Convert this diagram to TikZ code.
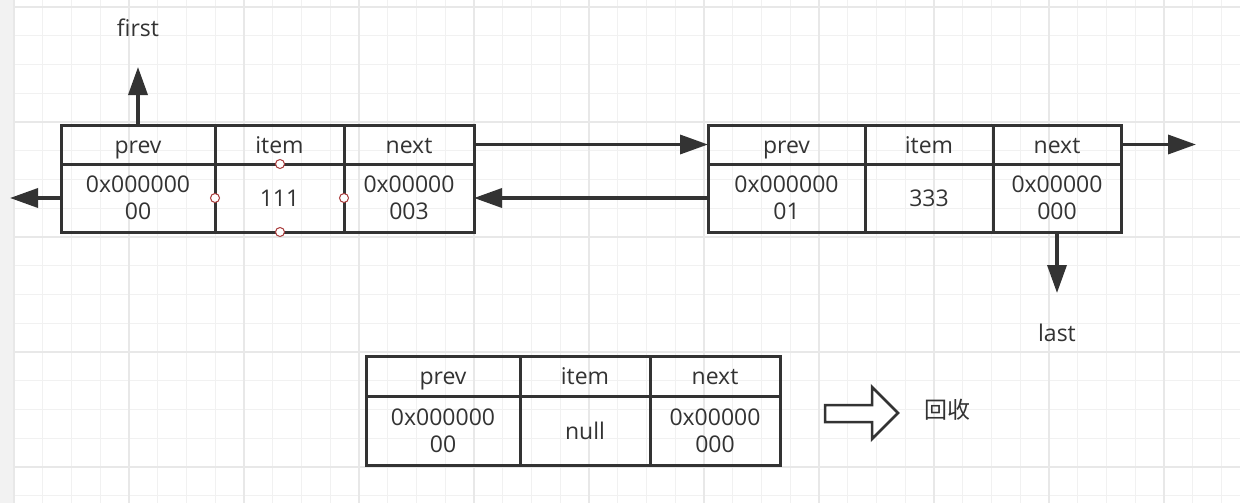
\documentclass[tikz,border=0pt]{standalone}
\usepackage{fontspec}
\setmainfont{Open Sans}
\newfontfamily\cjkfont{Noto Sans CJK SC}
\usetikzlibrary{arrows.meta}
\definecolor{ln}{HTML}{333333}
\definecolor{txt}{HTML}{333333}
\definecolor{gminor}{HTML}{F1F1F1}
\definecolor{gmajor}{HTML}{E8E8E8}
\definecolor{strip}{HTML}{F2F2F2}
\definecolor{hdl}{HTML}{A83A3A}
\tikzset{
  cellbox/.style={draw=ln, line width=3pt, inner sep=0pt, outer sep=0pt, anchor=north west, text=txt,
    font=\fontsize{23}{26.7}\selectfont, align=center},
  hcell/.style={cellbox, minimum height=#1, text height=18pt, text depth=1pt},
  vcell/.style={cellbox, minimum height=#1},
  arr/.style={draw=ln, line width=3.5pt, -{Triangle[length=28pt,width=19pt]}},
  lbl/.style={text=txt, font=\fontsize{23}{27}\selectfont, inner sep=0pt},
  handle/.style={circle, draw=hdl, fill=white, line width=1pt, minimum size=9pt, inner sep=0pt},
}
\begin{document}
\begin{tikzpicture}[x=1pt,y=-1pt]
\useasboundingbox (0,0) rectangle (1240,503);
% background and grid
\fill[white] (0,0) rectangle (1240,503);
\fill[strip] (0,0) rectangle (14,503);
\foreach \k in {0,...,43} {\draw[gminor, line width=1.2pt] ({14+28.75*\k},0) -- ({14+28.75*\k},503);}
\foreach \k in {0,...,17} {\draw[gminor, line width=1.2pt] (14,{7+28.75*\k}) -- (1240,{7+28.75*\k});}
\foreach \k in {0,4,...,40} {\draw[gmajor, line width=1.6pt] ({14+28.75*\k},0) -- ({14+28.75*\k},503);}
\foreach \k in {0,4,...,16} {\draw[gmajor, line width=1.6pt] (14,{7+28.75*\k}) -- (1240,{7+28.75*\k});}

% node 1
\node[hcell=39pt, minimum width=154pt] (n1p) at (61,125) {prev};
\node[hcell=39pt, minimum width=129pt] (n1i) at (215,125) {item};
\node[hcell=39pt, minimum width=130pt] (n1n) at (344,125) {next};
\node[vcell=68pt, minimum width=154pt] (n1pv) at (61,164) {0x000000\\00};
\node[vcell=68pt, minimum width=129pt] (n1iv) at (215,164) {111};
\node[vcell=68pt, minimum width=130pt] (n1nv) at (344,164) {0x00000\\003};

% node 2
\node[hcell=39pt, minimum width=157pt] (n2p) at (708,125) {prev};
\node[hcell=39pt, minimum width=128pt] (n2i) at (865,125) {item};
\node[hcell=39pt, minimum width=128pt] (n2n) at (993,125) {next};
\node[vcell=68pt, minimum width=157pt] (n2pv) at (708,164) {0x000000\\01};
\node[vcell=68pt, minimum width=128pt] (n2iv) at (865,164) {333};
\node[vcell=68pt, minimum width=128pt] (n2nv) at (993,164) {0x00000\\000};

% node 3
\node[hcell=40pt, minimum width=154pt] (n3p) at (366,356) {prev};
\node[hcell=40pt, minimum width=130pt] (n3i) at (520,356) {item};
\node[hcell=40pt, minimum width=130pt] (n3n) at (650,356) {next};
\node[vcell=69pt, minimum width=154pt] (n3pv) at (366,396) {0x000000\\00};
\node[vcell=69pt, minimum width=130pt] (n3iv) at (520,396) {null};
\node[vcell=69pt, minimum width=130pt] (n3nv) at (650,396) {0x00000\\000};

% selection handles
\node[handle] (h1) at (280,164) {};
\node[handle] (h2) at (280,232) {};
\node[handle] (h3) at (215,198) {};
\node[handle] (h4) at (344,198) {};

% labels
\node[lbl] (tfirst) at (138,27.6) {first};
\node[lbl] (tlast) at (1057,332.5) {last};
\node[lbl, font=\cjkfont\fontsize{23}{27}\selectfont] (trec) at (947.5,410) {回收};

% free ends
\coordinate (fa) at (138,67);
\coordinate (la) at (10,198);
\coordinate (ra) at (1196,144.5);
\coordinate (da) at (1057,293);

% connectors
\draw[arr] (n1p.north) -- (fa);
\draw[arr] (n1pv.west) -- (la);
\draw[arr] (n1n.east) -- (n2p.west);
\draw[arr] (n2pv.west) -- (n1nv.east);
\draw[arr] (n2n.east) -- (ra);
\draw[arr] (n2nv.south) -- (da);

% hollow arrow
\draw[ln, line width=2.5pt, fill=white, line join=miter]
  (825,405) -- (872,405) -- (872,387) -- (898,413) -- (872,439) -- (872,422) -- (825,422) -- cycle;
\end{tikzpicture}
\end{document}
